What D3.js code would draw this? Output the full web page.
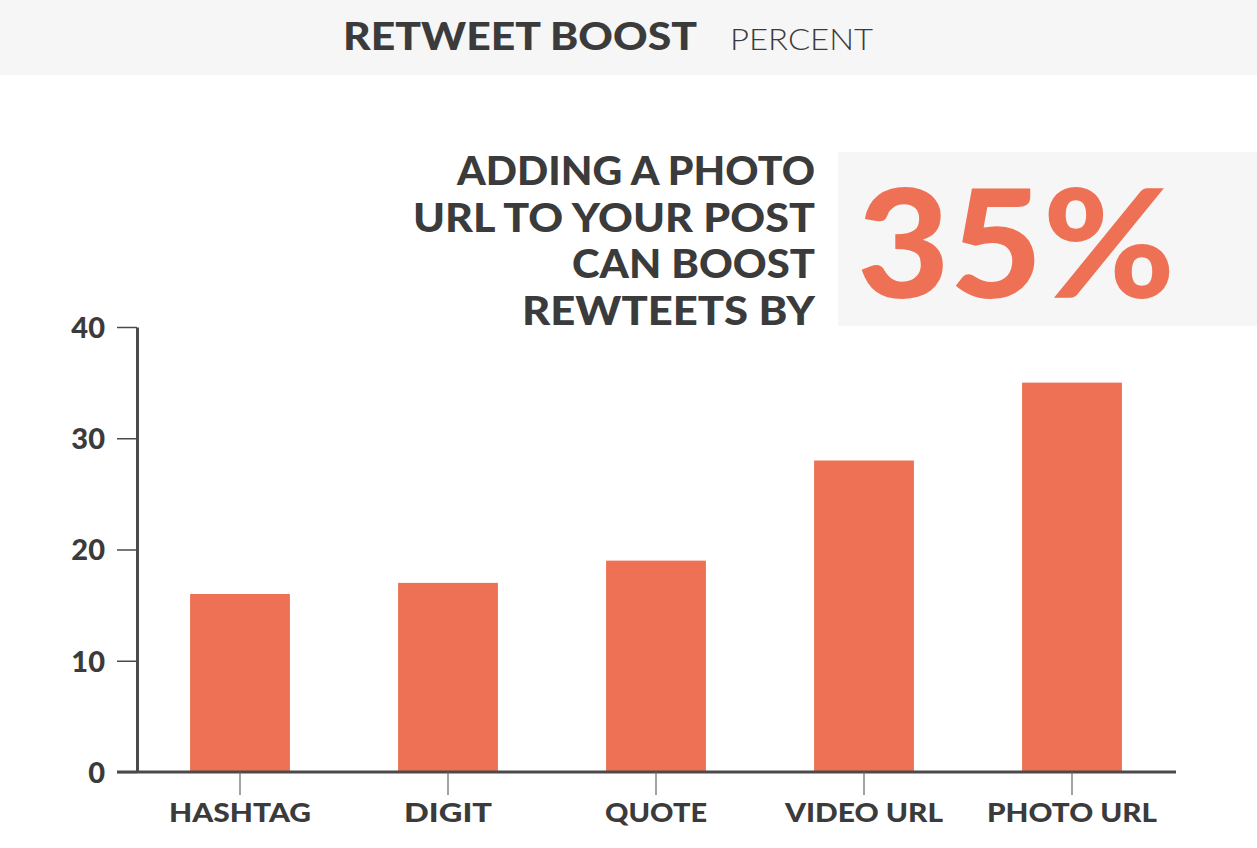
<!DOCTYPE html>
<html><head><meta charset="utf-8">
<script src="https://cdn.jsdelivr.net/npm/d3@7"></script>
<style>
html,body{margin:0;padding:0;background:#fff;}
svg{display:block;}
</style></head>
<body>
<svg id="chart" width="1257" height="848"></svg>
<script>
const categories = ["HASHTAG", "DIGIT", "QUOTE", "VIDEO URL", "PHOTO URL"];
const values = [16, 17, 19, 28, 35];
const yTicks = [0, 10, 20, 30, 40];
const titleMain = "RETWEET BOOST";
const titleUnit = "PERCENT";
const noteLines = ["ADDING A PHOTO", "URL TO YOUR POST", "CAN BOOST", "REWTEETS BY"];
const highlight = "35%";

const svg = d3.select("#chart");
const W = 1257, H = 848;
const orange = "#ee7155", dark = "#3b3b3b", axisCol = "#4a4a4a";
const font = "Lato, 'Open Sans', sans-serif";

// header band
svg.append("rect").attr("x",0).attr("y",0).attr("width",W).attr("height",75).attr("fill","#f6f6f6");
svg.append("text").attr("x",343).attr("y",50).attr("font-family",font).attr("font-weight",900)
  .attr("font-size",38).attr("fill",dark).attr("textLength",354).attr("lengthAdjust","spacingAndGlyphs").text(titleMain);
svg.append("text").attr("x",730).attr("y",50).attr("font-family",font).attr("font-weight",300)
  .attr("font-size",30).attr("fill",dark).attr("textLength",143).attr("lengthAdjust","spacingAndGlyphs").text(titleUnit);

const x = d3.scaleBand().domain(categories).range([136,1176]).paddingInner(0.52).paddingOuter(0.26);
const y = d3.scaleLinear().domain([0,40]).range([772,327]);

// highlight box
svg.append("rect").attr("x",838).attr("y",152).attr("width",W-838).attr("height",174).attr("fill","#f6f6f6");
svg.append("text").attr("x",857).attr("y",298).attr("font-family",font).attr("font-weight",900)
  .attr("font-size",150).attr("fill",orange).attr("textLength",318).attr("lengthAdjust","spacingAndGlyphs").text(highlight);

// note text
const noteWidths = [358, 402, 243, 293];
svg.append("g").selectAll("text").data(noteLines).join("text")
  .attr("x",815).attr("y",(d,i)=>185+i*46.5).attr("text-anchor","end")
  .attr("font-family",font).attr("font-weight",900).attr("font-size",40).attr("fill",dark)
  .attr("textLength",(d,i)=>noteWidths[i]).attr("lengthAdjust","spacingAndGlyphs").text(d=>d);

// bars
svg.append("g").selectAll("rect").data(categories).join("rect")
  .attr("x",d=>x(d)).attr("width",x.bandwidth())
  .attr("y",(d,i)=>y(values[i])).attr("height",(d,i)=>y(0)-y(values[i]))
  .attr("fill",orange);

// y axis
const yAxis = svg.append("g").attr("transform","translate(137,0)")
  .call(d3.axisLeft(y).tickValues(yTicks).tickSize(20).tickSizeOuter(0).tickPadding(12));
yAxis.select(".domain").attr("stroke",axisCol).attr("stroke-width",3);
yAxis.selectAll(".tick line").attr("stroke",axisCol).attr("stroke-width",1.5);
yAxis.selectAll(".tick text").attr("font-family",font).attr("font-weight",900).attr("font-size",29).attr("fill",dark).attr("dy","0.36em");

// x axis
const xAxis = svg.append("g").attr("transform","translate(0,772)")
  .call(d3.axisBottom(x).tickSize(23).tickSizeOuter(0).tickPadding(10));
xAxis.select(".domain").attr("d","M117,0H1176").attr("stroke",axisCol).attr("stroke-width",3);
xAxis.selectAll(".tick line").attr("stroke","#666").attr("stroke-width",1.2);
const xw = [142, 88, 102, 158, 170];
xAxis.selectAll(".tick text").attr("font-family",font).attr("font-weight",900).attr("font-size",27).attr("fill",dark)
  .attr("dy","0.62em").attr("textLength",(d,i)=>xw[i]).attr("lengthAdjust","spacingAndGlyphs");
</script>
</body></html>
